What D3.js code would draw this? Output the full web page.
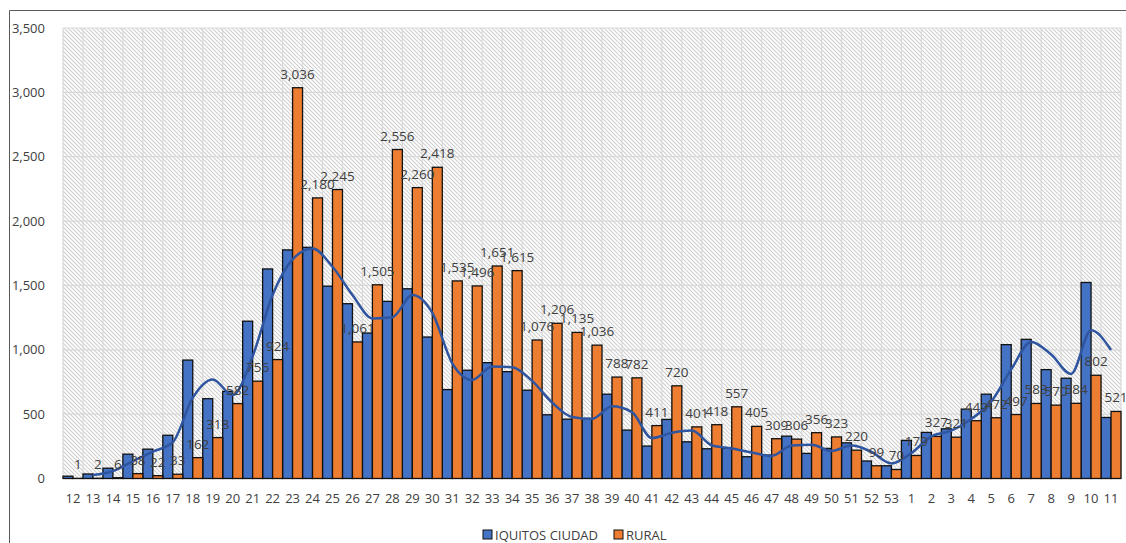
<!DOCTYPE html>
<html lang="es">
<head>
<meta charset="UTF-8">
<title>Casos por semana</title>
<script src="https://d3js.org/d3.v7.min.js"></script>
<style>
  body { margin: 0; background: #fff; }
  text { font-family: "Open Sans", "Noto Sans", sans-serif; fill: #404040; }
</style>
</head>
<body>
<div id="chart"></div>
<script>
// semanas epidemiologicas
var weeks = ["12","13","14","15","16","17","18","19","20","21","22","23","24","25","26","27","28","29","30",
  "31","32","33","34","35","36","37","38","39","40","41","42","43","44","45","46","47","48","49","50",
  "51","52","53","1","2","3","4","5","6","7","8","9","10","11"];

var ciudad = [18, 35, 80, 189, 228, 336, 920, 620, 677, 1222, 1628, 1776, 1796, 1494, 1358, 1130, 1376, 1474, 1099,
  691, 841, 900, 830, 686, 495, 461, 466, 655, 376, 252, 459, 285, 231, 235, 169, 182, 329, 195, 234,
  277, 136, 99, 296, 358, 386, 539, 655, 1040, 1081, 846, 779, 1523, 474];

var rural = [1, 2, 6, 38, 22, 33, 162, 318, 582, 756, 924, 3036, 2180, 2245, 1061, 1505, 2556, 2260, 2418,
  1535, 1496, 1651, 1615, 1076, 1206, 1135, 1036, 788, 782, 411, 720, 401, 418, 557, 405, 309, 306, 356, 323,
  220, 99, 70, 179, 327, 321, 449, 472, 497, 583, 570, 584, 802, 521];

var yTicks = [0, 500, 1000, 1500, 2000, 2500, 3000, 3500];

var W = 1126, H = 543;
var pLeft = 63, pRight = 1121, pTop = 28, pBottom = 478.5;

var svg = d3.select("#chart").append("svg")
  .attr("width", W).attr("height", H);

// hatch pattern for plot background
var defs = svg.append("defs");
var pat = defs.append("pattern")
  .attr("id", "hatch")
  .attr("patternUnits", "userSpaceOnUse")
  .attr("width", 4).attr("height", 4);
pat.append("rect").attr("width", 4).attr("height", 4).attr("fill", "#fff");
pat.append("path")
  .attr("d", "M-1,-1 L5,5 M-1,3 L1,5 M3,-1 L5,1")
  .attr("stroke", "#cfcfcf").attr("stroke-width", 1.1);

// outer border (left + top only visible)
svg.append("path")
  .attr("d", "M9.5," + H + " L9.5,10.5 L" + W + ",10.5")
  .attr("fill", "none").attr("stroke", "#595959").attr("stroke-width", 1);

var x = d3.scaleBand().domain(weeks).range([pLeft, pRight]).padding(0);
var xi = d3.scaleBand().domain(["c", "r"]).range([0, x.bandwidth()]).padding(0);
var y = d3.scaleLinear().domain([0, 3500]).range([pBottom, pTop]);

svg.append("rect")
  .attr("x", pLeft).attr("y", pTop)
  .attr("width", pRight - pLeft).attr("height", pBottom - pTop)
  .attr("fill", "url(#hatch)");

// horizontal gridlines
svg.append("g").selectAll("line").data(yTicks).join("line")
  .attr("x1", pLeft).attr("x2", pRight)
  .attr("y1", function(d) { return y(d); }).attr("y2", function(d) { return y(d); })
  .attr("stroke", "#d9d9d9").attr("stroke-width", 1.2);

// vertical gridlines at category edges
svg.append("g").selectAll("line").data(weeks.concat(["end"])).join("line")
  .attr("x1", function(d, i) { return pLeft + i * x.step(); })
  .attr("x2", function(d, i) { return pLeft + i * x.step(); })
  .attr("y1", pTop).attr("y2", pBottom)
  .attr("stroke", "#d9d9d9").attr("stroke-width", 1.2);

// y axis
var yAxis = svg.append("g")
  .attr("transform", "translate(" + (pLeft - 15) + ",0)")
  .call(d3.axisLeft(y).tickValues(yTicks).tickFormat(d3.format(",")).tickSize(0));
yAxis.select(".domain").remove();
yAxis.selectAll("text").attr("font-size", 13).attr("fill", "#404040")
  .style("font-family", "'Open Sans', sans-serif");

// x axis
var xAxis = svg.append("g")
  .attr("transform", "translate(0," + (pBottom + 12) + ")")
  .call(d3.axisBottom(x).tickSize(0));
xAxis.select(".domain").remove();
xAxis.selectAll("text").attr("font-size", 13).attr("fill", "#404040")
  .style("font-family", "'Open Sans', sans-serif");

// bars
var bars = svg.append("g");
bars.selectAll(".c").data(ciudad).join("rect")
  .attr("class", "c")
  .attr("x", function(d, i) { return x(weeks[i]) + xi("c"); })
  .attr("y", function(d) { return y(d); })
  .attr("width", xi.bandwidth())
  .attr("height", function(d) { return pBottom - y(d); })
  .attr("fill", "#4472C4").attr("stroke", "#111").attr("stroke-width", 1.3);

bars.selectAll(".r").data(rural).join("rect")
  .attr("class", "r")
  .attr("x", function(d, i) { return x(weeks[i]) + xi("r"); })
  .attr("y", function(d) { return y(d); })
  .attr("width", xi.bandwidth())
  .attr("height", function(d) { return pBottom - y(d); })
  .attr("fill", "#ED7D31").attr("stroke", "#111").attr("stroke-width", 1.3);

// moving average (2 periods) trendline of IQUITOS CIUDAD
var ma = [];
for (var i = 1; i < ciudad.length; i++) {
  ma.push({ w: weeks[i], v: (ciudad[i] + ciudad[i - 1]) / 2 });
}
var line = d3.line()
  .x(function(d) { return x(d.w) + x.bandwidth() / 2; })
  .y(function(d) { return y(d.v); })
  .curve(d3.curveMonotoneX);
svg.append("path").datum(ma)
  .attr("d", line)
  .attr("fill", "none").attr("stroke", "#2F55A0").attr("stroke-width", 2.5);

// data labels on rural
svg.append("g").selectAll("text").data(rural).join("text")
  .attr("x", function(d, i) { return x(weeks[i]) + xi("r") + xi.bandwidth() / 2; })
  .attr("y", function(d) { return y(d) - 9; })
  .attr("text-anchor", "middle")
  .attr("font-size", 13.5)
  .text(function(d) { return d3.format(",")(d); });

// legend
var legend = svg.append("g").attr("transform", "translate(483,535)");
var items = [{ name: "IQUITOS CIUDAD", c: "#4472C4", x: 0 }, { name: "RURAL", c: "#ED7D31", x: 131 }];
var li = legend.selectAll("g").data(items).join("g")
  .attr("transform", function(d) { return "translate(" + d.x + ",0)"; });
li.append("rect").attr("x", 0).attr("y", -5).attr("width", 9).attr("height", 9)
  .attr("fill", function(d) { return d.c; }).attr("stroke", "#111").attr("stroke-width", 1);
li.append("text").attr("x", 12).attr("y", 4.5).attr("font-size", 13)
  .text(function(d) { return d.name; });
</script>
</body>
</html>
